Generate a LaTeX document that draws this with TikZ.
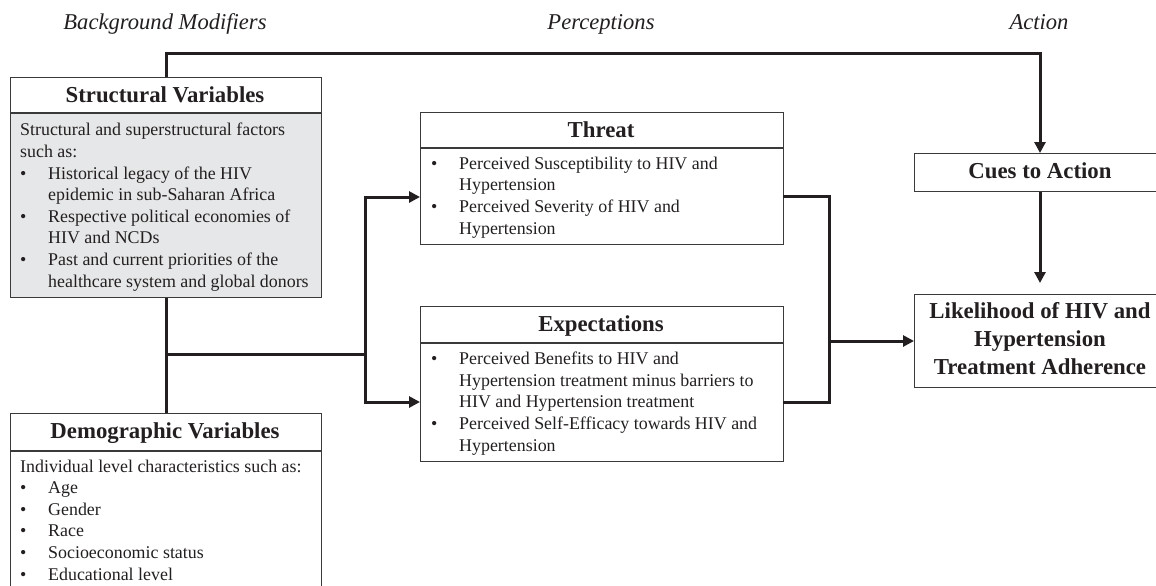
\documentclass[tikz,border=0pt]{standalone}
\usepackage{fontspec}
\setmainfont{Liberation Serif}
\usetikzlibrary{arrows.meta}
\definecolor{ink}{HTML}{231F20}
\definecolor{boxline}{HTML}{3A3A3A}
\definecolor{greyfill}{HTML}{E6E7E8}
\begin{document}
\begin{tikzpicture}[x=1pt,y=-1pt,
  box/.style={draw=boxline,line width=1.1pt,inner sep=0pt,anchor=north west},
  hdr/.style={font=\fontsize{22.8}{28}\selectfont\bfseries,text=ink,anchor=base,inner sep=0pt},
  body/.style={font=\fontsize{17.9}{21.6}\selectfont,text=ink,align=left,anchor=base west,inner sep=0pt},
  title/.style={font=\fontsize{22.6}{26}\selectfont\itshape,text=ink,anchor=base,inner sep=0pt},
  conn/.style={draw=ink,line width=3pt},
  arr/.style={conn,-{Triangle[length=11pt,width=11pt]}}]
\useasboundingbox (0,0) rectangle (1156,586);
\clip (0,0) rectangle (1156,586);
\newcommand{\bul}{\makebox[28pt][l]{•}}
\newcommand{\ind}{\hspace*{28pt}}
% titles
\node[title] (t1) at (165,30) {Background Modifiers};
\node[title] (t2) at (601,30) {Perceptions};
\node[title] (t3) at (1039,30) {Action};
% structural box
\fill[greyfill] (10,113) rectangle (321,297);
\node[box,minimum width=311pt,minimum height=220pt] (sv) at (10,77) {};
\draw[boxline,line width=1.1pt] (10,113) -- (321,113);
\node[hdr] (svh) at (165,102) {Structural Variables};
% anchored at last line baseline
\node[body] (svb) at (20,287) {Structural and superstructural factors\\
such as:\\
\bul Historical legacy of the HIV\\
\ind epidemic in sub-Saharan Africa\\
\bul Respective political economies of\\
\ind HIV and NCDs\\
\bul Past and current priorities of the\\
\ind healthcare system and global donors};
% demographic box
\node[box,minimum width=311pt,minimum height=200pt] (dv) at (10,413) {};
\draw[boxline,line width=1.1pt] (10,451) -- (321,451);
\node[hdr] (dvh) at (165,438) {Demographic Variables};
\node[body] (dvb) at (20,580) {Individual level characteristics such as:\\
\bul Age\\
\bul Gender\\
\bul Race\\
\bul Socioeconomic status\\
\bul Educational level};
% threat box
\node[box,minimum width=363pt,minimum height=132pt] (th) at (420,112) {};
\draw[boxline,line width=1.1pt] (420,148) -- (783,148);
\node[hdr] (thh) at (601,137) {Threat};
\node[body] (thb) at (431,234) {\bul Perceived Susceptibility to HIV and\\
\ind Hypertension\\
\bul Perceived Severity of HIV and\\
\ind Hypertension};
% expectations box
\node[box,minimum width=363pt,minimum height=155pt] (ex) at (420,306) {};
\draw[boxline,line width=1.1pt] (420,343) -- (783,343);
\node[hdr] (exh) at (601,331) {Expectations};
\node[body] (exb) at (431,451) {\bul Perceived Benefits to HIV and\\
\ind Hypertension treatment minus barriers to\\
\ind HIV and Hypertension treatment\\
\bul Perceived Self-Efficacy towards HIV and\\
\ind Hypertension};
% cues box
\node[box,minimum width=260pt,minimum height=38pt] (cu) at (914,153) {};
\node[hdr] (cuh) at (1040,178) {Cues to Action};
% likelihood box
\node[box,minimum width=260pt,minimum height=93pt] (lh) at (914,294) {};
\node[hdr,align=center] (lhh) at (1040,374) {Likelihood of HIV and\\Hypertension\\Treatment Adherence};
% connector coordinates
\coordinate (topy) at (0,54);
\coordinate (j1) at (165,354);
\coordinate (j2) at (365,354);
\coordinate (thin) at (420,197);
\coordinate (exin) at (420,402);
\coordinate (thout) at (783,196);
\coordinate (exout) at (783,402);
\coordinate (j3) at (829,341);
% connectors
\draw[arr] (sv.north) -- (sv.north |- topy) -| (cu.north west -| 1040,0);
\draw[conn] (sv.south) -- (dv.north);
\draw[conn] (j1) -- (j2);
\draw[arr] (j2) |- (thin);
\draw[arr] (j2) |- (exin);
\draw[conn] (thout) -| (j3) |- (exout);
\draw[arr] (j3) -- (lh.west |- j3);
\draw[arr,shorten >=11pt] (cu.south west -| 1040,0) -- (lh.north west -| 1040,0);
\end{tikzpicture}
\end{document}
